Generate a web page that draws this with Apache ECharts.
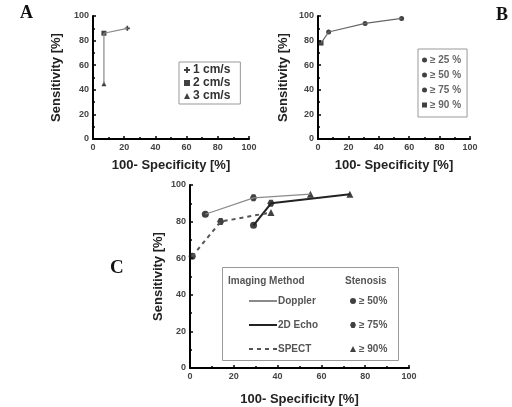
<!DOCTYPE html>
<html>
<head>
<meta charset="utf-8">
<script src="https://cdn.jsdelivr.net/npm/echarts@6/dist/echarts.min.js"></script>
<style>
  html, body { margin: 0; padding: 0; background: #fff; }
  #chart { width: 512px; height: 407px; }
</style>
</head>
<body>
<div id="chart"></div>
<script>
// Panel A: flow velocity thresholds
const aLabels = ['1 cm/s', '2 cm/s', '3 cm/s'];
const aX = [22, 7, 7];
const aY = [90, 86, 45];

// Panel B: stenosis thresholds
const bLabels = ['\u2265 25 %', '\u2265 50 %', '\u2265 75 %', '\u2265 90 %'];
const bX = [55, 31, 7, 2];
const bY = [98, 94, 87, 78];

// Panel C: imaging methods, one point per stenosis grade
const methods = ['Doppler', '2D Echo', 'SPECT'];
const stenosisLabels = ['\u2265 50%', '\u2265 75%', '\u2265 90%'];
const dopplerX = [7, 29, 55];
const dopplerY = [84, 93, 95];
const echoX = [29, 37, 73];
const echoY = [78, 90, 95];
const spectX = [1, 14, 37];
const spectY = [61, 80, 85];

const axisTicks = [0, 20, 40, 60, 80, 100];

const FONT = 'Liberation Sans, Arial, sans-serif';
const pairs = (xs, ys) => xs.map((x, i) => [x, ys[i]]);
const plusPath = 'path://M2,0H4V2H6V4H4V6H2V4H0V2H2Z';

function valueAxis(gridIndex, name, isX, nameGap) {
  return {
    type: 'value', gridIndex, min: axisTicks[0], max: axisTicks[axisTicks.length - 1],
    interval: axisTicks[1] - axisTicks[0],
    name, nameLocation: 'middle', nameGap,
    nameTextStyle: { fontFamily: FONT, fontWeight: 'bold', fontSize: 13, color: '#222' },
    axisLine: { show: true, lineStyle: { color: '#000', width: 2 } },
    axisTick: { show: true, inside: true, length: 3, lineStyle: { color: '#000', width: 1.5 } },
    minorTick: { show: true, splitNumber: 2, length: 2, lineStyle: { color: '#000', width: 1.5 } },
    splitLine: { show: false },
    axisLabel: { fontFamily: FONT, fontSize: 9, fontWeight: 'bold', color: '#444', margin: 4 }
  };
}

const dopplerPts = pairs(dopplerX, dopplerY);
const echoPts = pairs(echoX, echoY);
const spectPts = pairs(spectX, spectY);
const cSymbols = ['circle', 'path://M1,0H3L4,2L3,4H1L0,2Z', 'triangle'];

const option = {
  animation: false,
  backgroundColor: '#fff',
  grid: [
    { left: 93, top: 16, width: 156, height: 123 },
    { left: 318, top: 16, width: 152, height: 123 },
    { left: 190, top: 185, width: 219, height: 183 }
  ],
  xAxis: [
    valueAxis(0, '100- Specificity [%]', true, 20),
    valueAxis(1, '100- Specificity [%]', true, 20),
    valueAxis(2, '100- Specificity [%]', true, 25)
  ],
  yAxis: [
    valueAxis(0, 'Sensitivity [%]', false, 30),
    valueAxis(1, 'Sensitivity [%]', false, 28),
    valueAxis(2, 'Sensitivity [%]', false, 25)
  ],
  legend: [
    {
      data: aLabels, orient: 'vertical', left: 179, top: 62,
      itemWidth: 6, itemHeight: 6, itemGap: 1,
      padding: [2, 10, 2, 5], borderColor: '#999', borderWidth: 1,
      textStyle: { fontFamily: FONT, fontSize: 12, lineHeight: 12, fontWeight: 'bold', color: '#333', padding: [0, 0, 0, -2] }
    },
    {
      data: bLabels, orient: 'vertical', left: 418, top: 49,
      itemWidth: 5, itemHeight: 5, itemGap: 5,
      padding: [6, 6, 7, 4], borderColor: '#999', borderWidth: 1,
      textStyle: { fontFamily: FONT, fontSize: 10, lineHeight: 10, fontWeight: 'bold', color: '#666', padding: [0, 0, 0, -2] }
    },
    {
      data: methods, orient: 'vertical', left: 243, top: 291,
      itemWidth: 28, itemHeight: 10, itemGap: 14,
      itemStyle: { opacity: 0 },
      textStyle: { fontFamily: FONT, fontSize: 10, fontWeight: 'bold', color: '#555', padding: [0, 0, 0, -4] }
    },
    {
      data: stenosisLabels, orient: 'vertical', left: 345, top: 291,
      itemWidth: 6, itemHeight: 6, itemGap: 14,
      textStyle: { fontFamily: FONT, fontSize: 10, lineHeight: 10, fontWeight: 'bold', color: '#555', padding: [0, 0, 0, -2] }
    }
  ],
  series: [
    // Panel A
    {
      type: 'line', xAxisIndex: 0, yAxisIndex: 0, symbol: 'none',
      data: pairs(aX, aY).slice().reverse(),
      lineStyle: { color: '#888', width: 1.2 }
    },
    ...aLabels.map((name, i) => ({
      type: 'scatter', name, xAxisIndex: 0, yAxisIndex: 0,
      symbol: [plusPath, 'rect', 'triangle'][i], symbolSize: 5,
      itemStyle: { color: '#111' },
      data: [[aX[i], aY[i]]]
    })),
    // Panel B
    {
      type: 'line', xAxisIndex: 1, yAxisIndex: 1, symbol: 'none',
      data: pairs(bX, bY).slice().reverse(),
      lineStyle: { color: '#666', width: 1.2 }
    },
    ...bLabels.map((name, i) => ({
      type: 'scatter', name, xAxisIndex: 1, yAxisIndex: 1,
      symbol: i === 3 ? 'rect' : 'circle', symbolSize: 5,
      itemStyle: { color: '#111' },
      data: [[bX[i], bY[i]]]
    })),
    // Panel C lines
    {
      type: 'line', name: 'Doppler', xAxisIndex: 2, yAxisIndex: 2, symbol: 'none',
      data: dopplerPts, lineStyle: { color: '#8a8a8a', width: 1.2 }, itemStyle: { color: '#8a8a8a' }
    },
    {
      type: 'line', name: '2D Echo', xAxisIndex: 2, yAxisIndex: 2, symbol: 'none',
      data: echoPts, lineStyle: { color: '#222', width: 2 }, itemStyle: { color: '#222' }
    },
    {
      type: 'line', name: 'SPECT', xAxisIndex: 2, yAxisIndex: 2, symbol: 'none',
      data: spectPts, lineStyle: { color: '#555', width: 2, type: [4, 4] }, itemStyle: { color: '#555' }
    },
    // Panel C markers by stenosis grade
    ...stenosisLabels.map((name, i) => ({
      type: 'scatter', name, xAxisIndex: 2, yAxisIndex: 2,
      symbol: cSymbols[i], symbolSize: 7,
      itemStyle: { color: '#111' },
      data: [dopplerPts[i], echoPts[i], spectPts[i]]
    }))
  ],
  graphic: [
    { type: 'text', left: 20, top: 4, style: { text: 'A', font: 'bold 18px Liberation Serif, serif', fill: '#111' } },
    { type: 'text', left: 496, top: 6, style: { text: 'B', font: 'bold 18px Liberation Serif, serif', fill: '#111' } },
    { type: 'text', left: 110, top: 259, style: { text: 'C', font: 'bold 19px Liberation Serif, serif', fill: '#111' } },
    { type: 'rect', shape: { x: 222.5, y: 267.5, width: 176, height: 93 }, style: { fill: 'none', stroke: '#999', lineWidth: 1 }, z: 10 },
    { type: 'text', left: 228, top: 276, style: { text: 'Imaging Method', font: 'bold 10px Liberation Sans, Arial, sans-serif', fill: '#555' } },
    { type: 'text', left: 345, top: 276, style: { text: 'Stenosis', font: 'bold 10px Liberation Sans, Arial, sans-serif', fill: '#555' } }
  ]
};

const chart = echarts.init(document.getElementById('chart'), null, { renderer: 'canvas' });
chart.setOption(option);
</script>
</body>
</html>
